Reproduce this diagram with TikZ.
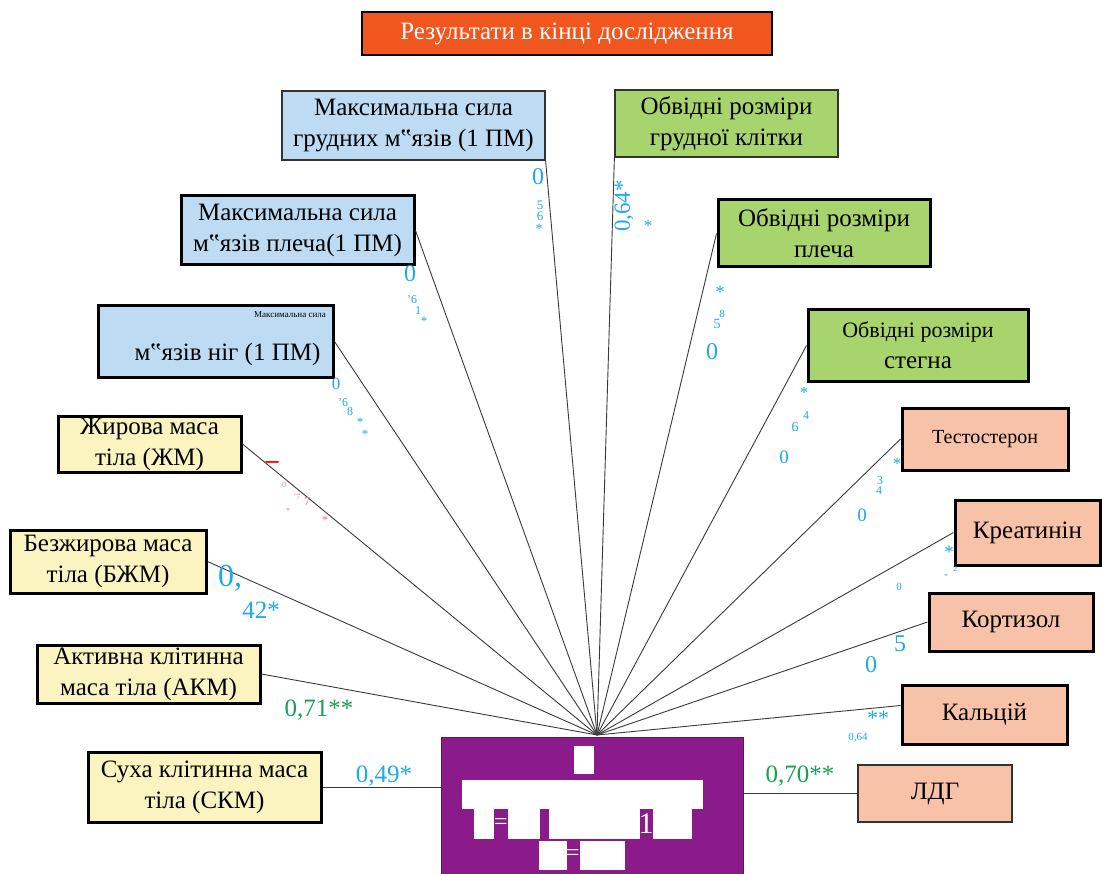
\documentclass[tikz,border=0pt]{standalone}
\usepackage{fontspec}
\setmainfont{Liberation Serif}
\usetikzlibrary{calc}
\definecolor{titlefill}{HTML}{F0561E}
\definecolor{musclefill}{HTML}{BDDCF4}
\definecolor{massfill}{HTML}{FBF4C0}
\definecolor{sizefill}{HTML}{A8D46E}
\definecolor{bloodfill}{HTML}{F8C2A9}
\definecolor{resfill}{HTML}{8B1A8A}
\definecolor{coefblue}{HTML}{1EA9E8}
\definecolor{coefgreen}{HTML}{19A052}
\definecolor{coefred}{HTML}{EE7480}
\definecolor{linkgray}{HTML}{3A3A3A}
\newcommand\fsz[1]{\fontsize{#1}{#1}\selectfont}

\begin{document}
\begin{tikzpicture}[x=1pt,y=-1pt,
  box/.style={draw=black,line width=3pt,align=center,inner sep=0pt,
    font=\fontsize{25}{31}\selectfont},
  thinframe/.style={line width=1.2pt,draw=black!80},
  musclebox/.style={box,fill=musclefill},
  massbox/.style={box,fill=massfill},
  sizebox/.style={box,fill=sizefill},
  bloodbox/.style={box,fill=bloodfill},
  link/.style={draw=linkgray,line width=0.9pt},
  coef/.style={inner sep=0pt}]
  \clip (0,0) rectangle (1102,874);
  \fill[white] (0,0) rectangle (1102,874);

  \node[box,thinframe,line width=2pt,draw=black,fill=titlefill,text=white,
    minimum width=410,minimum height=43] (title) at (567,33.5)
    {Результати в кінці дослідження};

  \node[musclebox,thinframe,minimum width=263,minimum height=69] (grudni) at (413.5,125.5)
    {Максимальна сила\\грудних м‟язів (1 ПМ)};
  \node[musclebox,minimum width=233,minimum height=69] (plecha) at (297.5,230.5)
    {Максимальна сила\\м‟язів плеча(1 ПМ)};
  \node[musclebox,minimum width=235,minimum height=71] (nig) at (215.5,341.5) {};
  \node[coef] (nigtop) at (290,315) {\fsz{9}Максимальна сила};
  \node[coef,font=\fsz{25}] (nigtext) at (227.5,354) {м‟язів ніг (1 ПМ)};

  \node[massbox,minimum width=183,minimum height=56] (zhm) at (149.5,444)
    {Жирова маса\\тіла (ЖМ)};
  \node[massbox,minimum width=196,minimum height=63] (bzhm) at (108,561.5)
    {Безжирова маса\\тіла (БЖМ)};
  \node[massbox,minimum width=223,minimum height=58] (akm) at (148.5,674)
    {Активна клітинна\\маса тіла (АКМ)};
  \node[massbox,minimum width=233,minimum height=70] (skm) at (204.5,787)
    {Суха клітинна маса\\тіла (СКМ)};

  \node[sizebox,thinframe,minimum width=223,minimum height=67] (klitka) at (726.5,123.5)
    {Обвідні розміри\\грудної клітки};
  \node[sizebox,minimum width=212,minimum height=67] (plecho) at (824,233.5)
    {Обвідні розміри\\плеча};
  \node[sizebox,minimum width=220,minimum height=71] (stehno) at (918,345.5)
    {{\fontsize{22}{27}\selectfont Обвідні розміри}\\стегна};

  \node[bloodbox,minimum width=166,minimum height=62,font=\fsz{20}] (testo) at (985,439)
    {Тестостерон};
  \node[bloodbox,minimum width=145,minimum height=65] (kreat) at (1027.5,532.5) {Креатинін};
  \node[bloodbox,minimum width=164,minimum height=58] (kort) at (1011,622) {Кортизол};
  \node[bloodbox,minimum width=165,minimum height=59] (kalc) at (984.5,714.5) {Кальцій};
  \node[bloodbox,thinframe,minimum width=154,minimum height=57] (ldg) at (935,793.5) {ЛДГ};

  \node[draw=resfill!70!black,line width=1pt,fill=resfill,minimum width=302,
    minimum height=142,inner sep=0pt] (res) at (592,808) {};
  \fill[white] (574,746) rectangle (594,774);
  \fill[white] (462,780) rectangle (703,809);
  \foreach \xa/\xb in {474/494,508/540,549/640,653/692}
    \fill[white] (\xa,809) rectangle (\xb,839);
  \foreach \xa/\xb in {539/567,580/625}
    \fill[white] (\xa,841) rectangle (\xb,870);
  \node[coef,text=white,font=\fsz{24}] (eqA) at (501,824) {=};
  \node[coef,text=white,font=\fsz{30}] (one) at (646,824) {1};
  \node[coef,text=white,font=\fsz{24}] (eqB) at (573,855) {=};

  \coordinate (hub) at (597,735);
  \foreach \b in {grudni.south east,klitka.south west,plecha.east,nig.east,
    zhm.east,bzhm.east,akm.east,plecho.west,stehno.west,testo.west,
    kreat.west,kort.west}
    \draw[link] (hub) -- (\b);
  \draw[link] (hub) -- ($(kalc.west)+(0,-9)$);
  \draw[link] (skm.east) -- (skm.east -| res.west);
  \draw[link] (res.east |- ldg.west) -- (ldg.west);

  \foreach \n/\x/\y/\s/\t in {cgA/538/177/24/0,cgB/540/205/13/5,cgC/540/216/13/6,
    cgD/539/229/14/*,ckB/648/226/17/*,
    cpA/410/274/24/0,cpB/412/300/12/'6,cpC/418/311/12/1,cpD/424/321/13/*,
    cnA/336/384/17/0,cnB/343/403/12/'6,cnC/350/412/12/8,cnD/360/422/13/*,cnE/365/434/13/*,
    cbA/230/578/32/{0,},cbB/261/610/25/42*,csA/384/776/25/{0,49*},
    coA/720/292/19/*,coB/722/314/11/8,coC/717/324/14/5,coD/712/352/24/0,
    chA/804/393/17/*,chB/806/416/12/4,chC/795/427/14/6,chD/784/457/19/0,
    ctA/897/464/17/*,ctB/880/481/12/3,ctC/879/491/12/4,ctD/862/515/19/0,
    crA/949/552/19/*,crB/955/569/8/2,crC/946/576/7/*,crD/899/587/11/0,
    cqA/900/644/24/5,cqB/871/665/24/0,
    clA/878/718/22/**,clB/858/738/11/{0,64}}
    \node[coef,text=coefblue] (\n) at (\x,\y) {\fsz{\s}\t};
  \node[coef,text=coefblue,rotate=90] (ckA) at (624,206) {\fsz{23}0,64*};

  \foreach \n/\x/\y/\s/\t in {caA/319/710/25/{0,71**},cdA/800/776/25/{0,70**}}
    \node[coef,text=coefgreen] (\n) at (\x,\y) {\fsz{\s}\t};

  \node[coef,text=red,font=\fsz{26}\bfseries] (czA) at (272,465) {–};
  \foreach \n/\x/\y/\s/\t in {czB/284/485/8/0,czC/297/497/8/'7,czD/307/502/12/7,
    czE/288/511/8/*,czF/325/520/13/*}
    \node[coef,text=coefred] (\n) at (\x,\y) {\fsz{\s}\t};
\end{tikzpicture}
\end{document}
